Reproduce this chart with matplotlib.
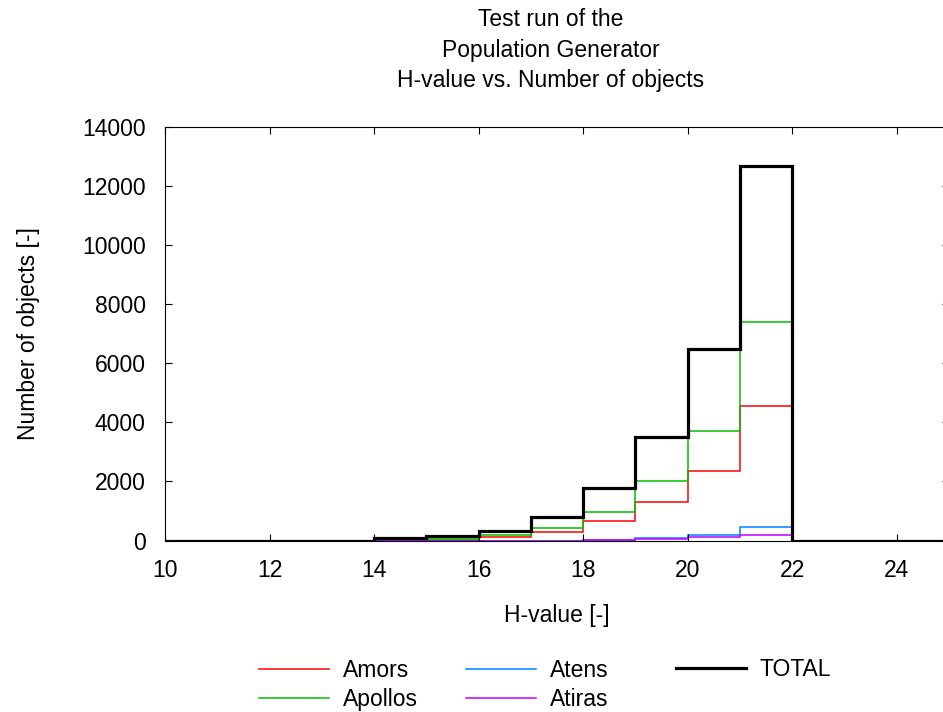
import matplotlib.pyplot as plt
import numpy as np

# bin edges for H-value (width 1)
edges = np.arange(10, 26, 1)

# counts per bin, 10-11 ... 24-25
amors = [0, 0, 0, 0, 0, 15, 120, 300, 650, 1300, 2350, 4560, 0, 0, 0]
apollos = [0, 0, 0, 0, 20, 45, 190, 420, 970, 2030, 3720, 7390, 0, 0, 0]
atens = [0, 0, 0, 0, 0, 0, 0, 0, 10, 95, 190, 450, 0, 0, 0]
atiras = [0, 0, 0, 0, 0, 0, 0, 0, 30, 45, 110, 190, 0, 0, 0]
total = [0, 0, 0, 0, 70, 150, 310, 790, 1790, 3520, 6470, 12680, 0, 0, 0]

plt.rcParams['font.family'] = ['Liberation Sans', 'DejaVu Sans']
fs = 16.5

fig = plt.figure(figsize=(9.43, 7.12), dpi=100)
# right border of the plot lies just outside the picture (x = 25)
ax = fig.add_axes([165 / 943, 171.5 / 712, 784 / 943, 413.5 / 712])

h_am, = ax.stairs(amors, edges, color='#ff0000', lw=1.1, label='Amors'),
h_ap, = ax.stairs(apollos, edges, color='#00c000', lw=1.1, label='Apollos'),
h_at, = ax.stairs(atens, edges, color='#0080ff', lw=1.1, label='Atens'),
h_ai, = ax.stairs(atiras, edges, color='#c000ff', lw=1.1, label='Atiras'),
h_to, = ax.stairs(total, edges, color='black', lw=2.3, label='TOTAL'),

ax.set_xlim(10, 25)
ax.set_ylim(0, 14000)
ax.set_xticks(np.arange(10, 25, 2))
ax.set_yticks(np.arange(0, 14001, 2000))
ax.tick_params(direction='in', length=5, width=0.8, top=True, right=True,
               labelsize=fs, colors='black')
ax.tick_params(axis='y', pad=14)
ax.tick_params(axis='x', pad=13)
for s in ax.spines.values():
    s.set_linewidth(0.8)

ax.set_xlabel('H-value [-]', fontsize=fs, labelpad=16)
ax.set_ylabel('Number of objects [-]', fontsize=fs, labelpad=30)
fig.text(551 / 943, 1 - 50 / 712, 'Test run of the\nPopulation Generator\nH-value vs. Number of objects',
         ha='center', va='center', fontsize=fs, linespacing=1.4)

# gnuplot style key: fixed-width columns below the plot
leg_kw = dict(frameon=False, fontsize=fs, handlelength=3.05, handletextpad=0.6,
              labelspacing=0.3, borderpad=0, borderaxespad=0, loc='center left')
l1 = fig.legend([h_am, h_ap], ['Amors', 'Apollos'], bbox_to_anchor=(259 / 943, 1 - 685 / 712), **leg_kw)
l2 = fig.legend([h_at, h_ai], ['Atens', 'Atiras'], bbox_to_anchor=(466 / 943, 1 - 685 / 712), **leg_kw)
l3 = fig.legend([h_to], ['TOTAL'], bbox_to_anchor=(676 / 943, 1 - 670 / 712), **leg_kw)

fig.savefig('out.png', dpi=100)
